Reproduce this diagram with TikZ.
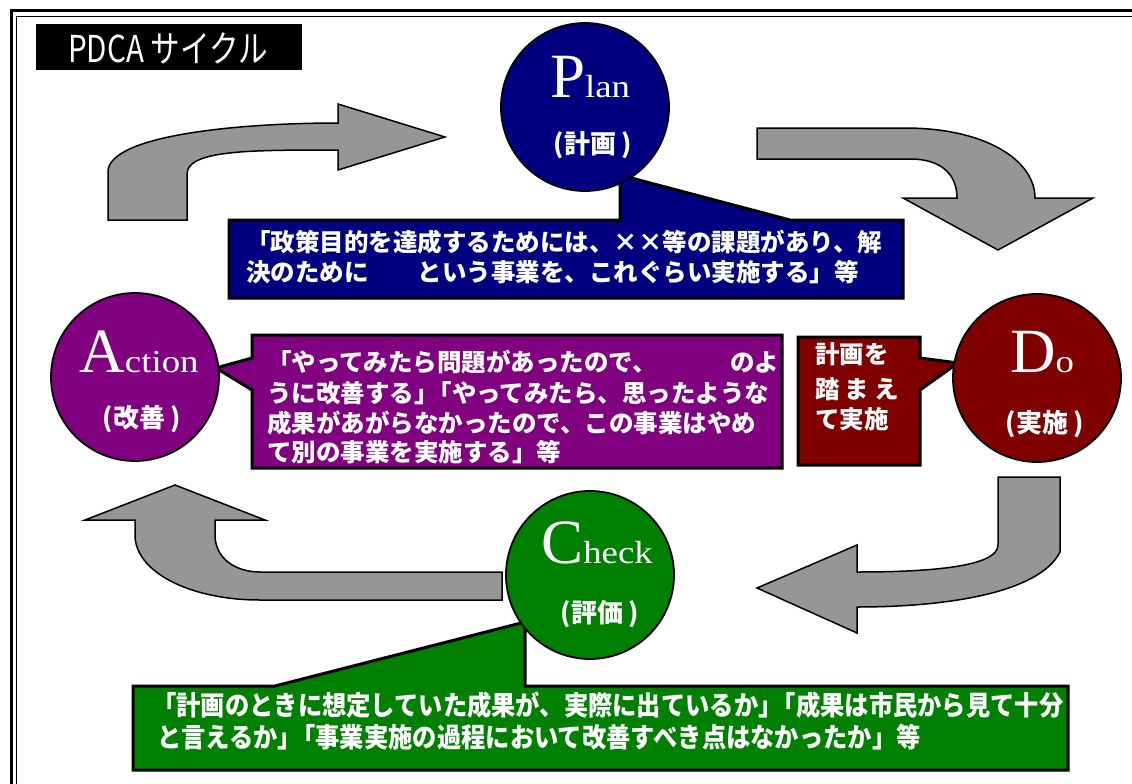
\documentclass[tikz,border=0pt]{standalone}
\usepackage{fontspec}
\setmainfont{Liberation Serif}
\newfontfamily\jp{Noto Sans CJK JP}
\definecolor{navyc}{RGB}{0,0,128}
\definecolor{maroonc}{RGB}{128,0,0}
\definecolor{purplec}{RGB}{128,0,128}
\definecolor{greenc}{RGB}{0,128,0}
\definecolor{arrowgray}{RGB}{150,150,150}
\tikzset{
  circ/.style={circle, draw=black, line width=1.8pt, minimum size=168pt, inner sep=0pt},
  callout/.style={draw=black, line width=3pt, line join=miter},
  garrow/.style={fill=arrowgray, draw=black, line width=1.5pt, line join=miter},
  jline/.style={text=white, anchor=base west, inner sep=0pt, font=\jp\bfseries\fontsize{24.5}{24.5}\selectfont},
  gline/.style={text=white, anchor=base west, inner sep=0pt, font=\jp\bfseries\fontsize{27}{27}\selectfont},
  clabel/.style={text=white, anchor=base, inner sep=0pt, font=\jp\bfseries\fontsize{26}{26}\selectfont},
  bigl/.style={text=white, anchor=base, inner sep=0pt},
}
\newcommand{\bigword}[2]{{\fontsize{63}{63}\selectfont #1}\scalebox{1.15}[1]{\fontsize{32}{32}\selectfont #2}}
\newcommand{\tq}{」\kern-0.45em「}
\begin{document}
\begin{tikzpicture}[x=1pt,y=-1pt]
\useasboundingbox (0,0) rectangle (1132,784);
\fill[white] (0,0) rectangle (1132,784);
% frame
\draw[line width=3pt] (11,11) rectangle (1150,810);
\draw[line width=1.2pt] (16.5,16.5) rectangle (1145,805);
% title
\node[fill=black, minimum width=266pt, minimum height=46pt, inner sep=0pt] (title) at (169,47) {};
\node[text=white, inner sep=0pt] (titletext) at (168,48) {\scalebox{0.8}[1]{\jp\fontsize{37}{37}\selectfont PDCA サイクル}};
% arrows
\draw[garrow] (108,220) -- (108,172) .. controls (108,135) and (240,123) .. (338,123) -- (338,104) -- (445,137) -- (338,170) -- (338,150) .. controls (250,150) and (187,150) .. (187,174) -- (187,220) -- cycle;
\draw[garrow] (757,128) -- (905,128) .. controls (985,128) and (1035,160) .. (1035,198) -- (1093,198) -- (998,250) -- (903,198) -- (957,198) .. controls (957,175) and (942,159) .. (910,159) -- (757,159) -- cycle;
\draw[garrow] (998,477) -- (1060,477) -- (1060,552) .. controls (1040,592) and (950,607) .. (857,607) -- (857,633) -- (757,588) -- (857,545) -- (857,572) .. controls (935,572) and (998,566) .. (998,545) -- cycle;
\draw[garrow] (175,485) -- (265,520) -- (215,520) -- (215,535) .. controls (215,558) and (235,572) .. (260,572) -- (502,572) -- (502,600) -- (260,600) .. controls (190,600) and (135,572) .. (135,535) -- (135,520) -- (85,520) -- cycle;
% callouts
\draw[callout, fill=navyc] (229,220) -- (620,220) -- (620,175) -- (790,220) -- (903,220) -- (903,298) -- (229,298) -- cycle;
\draw[callout, fill=purplec] (252,335) -- (782,335) -- (782,468) -- (252,468) -- (252,390) -- (216,368) -- (252,358) -- cycle;
\draw[callout, fill=maroonc] (798,337) -- (920,337) -- (920,358) -- (958,363) -- (920,390) -- (920,465) -- (798,465) -- cycle;
\draw[callout, fill=greenc] (133,686) -- (275,686) -- (525,622) -- (525,686) -- (1068,686) -- (1068,770) -- (133,770) -- cycle;
% circles
\node[circ, fill=navyc] (plan) at (585,107) {};
\node[circ, fill=purplec] (act) at (135,377) {};
\node[circ, fill=maroonc] (do) at (1037,378) {};
\node[circ, fill=greenc] (check) at (590,575) {};
% circle labels
\node[bigl] (plant) at (590,97) {\bigword{P}{lan}};
\node[clabel] (planj) at (593,153) {(計画 )};
\node[bigl] (actt) at (139,372) {\bigword{A}{ction}};
\node[clabel] (actj) at (142,427) {(改善 )};
\node[bigl] (dot) at (1042,372) {\bigword{D}{o}};
\node[clabel] (doj) at (1045,432) {(実施 )};
\node[bigl] (checkt) at (597,563) {\bigword{C}{heck}};
\node[clabel] (checkj) at (600,622) {(評価 )};
% plan callout text
\node[jline] (p1) at (246,251) {「政策目的を達成するためには、××等の課題があり、解};
\node[jline] (p2) at (246,281) {決のために　　という事業を、これぐらい実施する」等};
% action callout text
\node[jline] (a1) at (267,371) {「やってみたら問題があったので、　　　のよ};
\node[jline] (a2) at (267,402) {うに改善する\tq やってみたら、思ったような};
\node[jline] (a3) at (267,432) {成果があがらなかったので、この事業はやめ};
\node[jline] (a4) at (267,461) {て別の事業を実施する」等};
% do callout text
\node[jline] (d1) at (815,363) {計画を};
\node[jline] (d2) at (815,398) {踏\hspace{5pt}ま\hspace{5pt}え};
\node[jline] (d3) at (815,428) {て実施};
% check callout text
\node[gline] (c1) at (152,715) {\scalebox{0.9}[1]{「計画のときに想定していた成果が、実際に出ているか\tq 成果は市民から見て十分}};
\node[gline] (c2) at (157,747) {\scalebox{0.9}[1]{と言えるか\tq 事業実施の過程において改善すべき点はなかったか」等}};
\end{tikzpicture}
\end{document}
